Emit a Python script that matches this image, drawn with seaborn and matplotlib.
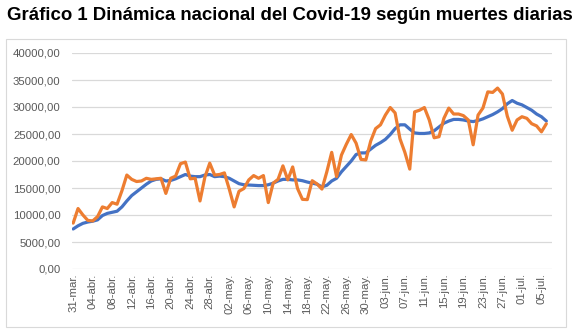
import matplotlib
matplotlib.use("Agg")
import matplotlib.pyplot as plt
import matplotlib.ticker as mticker
from matplotlib.patches import Rectangle
import seaborn as sns
import pandas as pd
import numpy as np

# ---- data ----
daily_deaths = [
    8500, 11200, 10000, 9000, 8900, 9700, 11500, 11200, 12300, 12000,
    14500, 17400, 16600, 16200, 16300, 16800, 16600, 16700, 16800, 14000,
    16800, 17200, 19500, 19800, 16700, 16800, 12600, 17000, 19600, 17400,
    17500, 17800, 14800, 11500, 14400, 14900, 16500, 17300, 16800, 17300,
    12300, 15900, 16600, 19100, 16500, 18900, 14900, 12900, 12850, 16350,
    15750, 14800, 18000, 21600, 17100, 21100, 23100, 24900, 23300, 20300,
    20200, 23700, 26000, 26700, 28500, 29900, 28900, 24100, 21600, 18500,
    29100, 29400, 29900, 27600, 24300, 24500, 27900, 29800, 28700, 28700,
    28400, 27600, 23000, 28500, 29800, 32800, 32700, 33500, 32400, 28300,
    25700, 27600, 28200, 27900, 26900, 26500, 25400, 26900,
]
moving_avg = [
    7410, 8000, 8460, 8700, 8850, 9100, 9900, 10300, 10500, 10700,
    11500, 12600, 13600, 14300, 15000, 15700, 16300, 16600, 16700, 16300,
    16400, 16700, 17100, 17500, 17200, 17100, 17100, 17400, 17500, 17100,
    17200, 17100, 16800, 16300, 15800, 15600, 15550, 15500, 15450, 15450,
    15600, 15900, 16300, 16600, 16600, 16500, 16500, 16350, 16100, 15900,
    15700, 15200, 15500, 16300, 16800, 18000, 19000, 20000, 21200, 21500,
    21500, 22200, 22900, 23400, 24000, 24900, 26000, 26700, 26700, 25900,
    25200, 25100, 25100, 25200, 25600, 26300, 27000, 27400, 27700, 27700,
    27600, 27400, 27300, 27500, 27800, 28200, 28600, 29100, 29700, 30600,
    31200, 30700, 30400, 29900, 29400, 28700, 28200, 27400,
]
tick_labels = [
    "31-mar.", "04-abr.", "08-abr.", "12-abr.", "16-abr.", "20-abr.", "24-abr.",
    "28-abr.", "02-may.", "06-may.", "10-may.", "14-may.", "18-may.", "22-may.",
    "26-may.", "30-may.", "03-jun.", "07-jun.", "11-jun.", "15-jun.", "19-jun.",
    "23-jun.", "27-jun.", "01-jul.", "05-jul.",
]
y_ticks = [0, 5000, 10000, 15000, 20000, 25000, 30000, 35000, 40000]
title = "Gráfico 1 Dinámica nacional del Covid-19 según muertes diarias"

# ---- build table ----
n = len(daily_deaths)
df = pd.DataFrame({
    "day": np.arange(n),
    "Media móvil": moving_avg,
    "Muertes diarias": daily_deaths,
})
long = df.melt(id_vars="day", var_name="serie", value_name="valor")

sns.set_theme(style="white")
plt.rcParams["font.family"] = ["Liberation Sans", "DejaVu Sans"]

W, H = 586, 335
fig = plt.figure(figsize=(W / 100, H / 100), dpi=100)
fig.patch.set_facecolor("white")

# outer chart border
fig.patches.append(Rectangle((6 / W, 1 - 327 / H), (566 - 6) / W, (327 - 39.3) / H,
                             transform=fig.transFigure, fill=False,
                             edgecolor="#d9d9d9", linewidth=0.8, zorder=0))

ax = fig.add_axes([71.7 / W, 1 - 269 / H, (551.7 - 71.7) / W, (269 - 53) / H])

sns.lineplot(data=long, x="day", y="valor", hue="serie",
             palette={"Media móvil": "#4472C4", "Muertes diarias": "#ED7D31"},
             linewidth=2.3, legend=False, ax=ax)

ax.set_xlim(-0.3, n + 0.1)
ax.set_ylim(0, 40000)
ax.set_yticks(y_ticks)
ax.yaxis.set_major_formatter(mticker.FuncFormatter(lambda v, p: f"{v:.2f}".replace(".", ",")))
ax.set_xticks(np.arange(0, 4 * len(tick_labels), 4))
ax.set_xticklabels(tick_labels, rotation=90)
ax.set_xlabel("")
ax.set_ylabel("")

for s in ax.spines.values():
    s.set_visible(False)
ax.grid(axis="y", color="#d9d9d9", linewidth=0.9)
ax.set_axisbelow(True)
ax.tick_params(axis="both", length=0, labelsize=8.2, colors="#595959")
ax.tick_params(axis="y", pad=8)
ax.tick_params(axis="x", pad=3)

fig.text(7 / W, 1 - 16 / H, title, fontsize=13.4, fontweight="bold",
         ha="left", va="center", color="black")

fig.savefig("out.png", dpi=100, facecolor="white")
